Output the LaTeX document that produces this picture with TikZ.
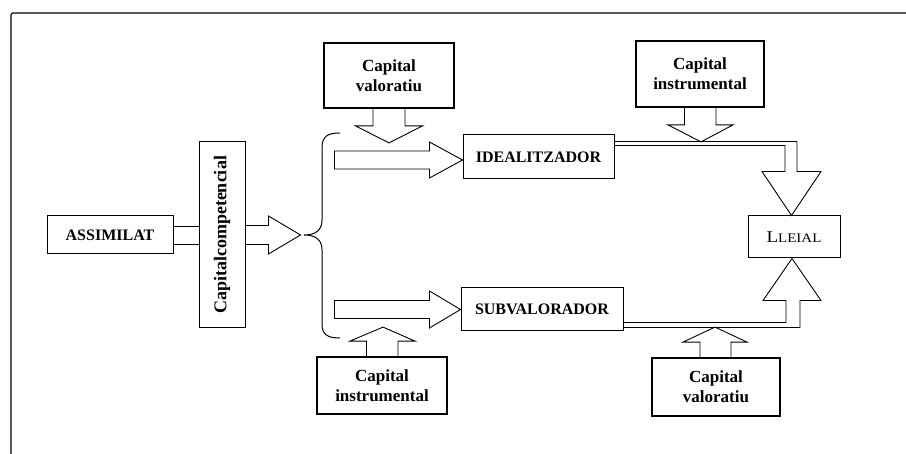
\documentclass[tikz,border=0pt]{standalone}
\usepackage{fontspec}
\setmainfont{Liberation Serif}
\usetikzlibrary{calc}
\begin{document}
\begin{tikzpicture}[x=1pt,y=1pt,
  plainbox/.style={draw, line width=1pt, inner sep=0pt, font=\bfseries\fontsize{16}{18}\selectfont},
  capbox/.style={draw, line width=1.8pt, inner sep=0pt, align=center, font=\bfseries\fontsize{17}{20}\selectfont},
  blockarrow/.style={draw, line width=0.9pt, line join=miter},
  framestroke/.style={line width=1.1pt}]
\useasboundingbox (0,0) rectangle (906,454);
% frame
\draw[framestroke, rounded corners=2pt] (11,0) -- (11,441) -- (906,441);
% nodes
\node[plainbox, minimum width=126pt, minimum height=38pt] (assim) at (110,219) {ASSIMILAT};
\node[plainbox, minimum width=46pt, minimum height=186pt, font=\bfseries\fontsize{18}{20}\selectfont] (comp) at (222,219) {\rotatebox{90}{Capitalcompetencial}};
\node[capbox, minimum width=130pt, minimum height=65pt] (capv1) at (389,378.5) {Capital\\valoratiu};
\node[capbox, minimum width=128pt, minimum height=66pt] (capi1) at (700,380) {Capital\\instrumental};
\node[plainbox, minimum width=151pt, minimum height=44pt] (ideal) at (538.5,297) {IDEALITZADOR};
\node[plainbox, minimum width=162pt, minimum height=43pt] (subv) at (542,144.5) {SUBVALORADOR};
\node[draw, line width=1pt, inner sep=0pt, minimum width=92pt, minimum height=42pt] (lleial) at (794,217)
  {\scalebox{1.15}[1]{\fontsize{16.5}{18}\selectfont L\fontsize{13}{18}\selectfont LEIAL}};
\node[capbox, minimum width=130pt, minimum height=57pt] (capi2) at (382,68.5) {Capital\\instrumental};
\node[capbox, minimum width=128pt, minimum height=58pt] (capv2) at (716,67) {Capital\\valoratiu};
% ASSIMILAT -> Capitalcompetencial (double shaft)
\coordinate (a1) at ($(assim.east)+(0,9)$);
\coordinate (a2) at ($(assim.east)+(0,-9)$);
\draw[blockarrow] (a1) -- (a1 -| comp.west);
\draw[blockarrow] (a2) -- (a2 -| comp.west);
% Capitalcompetencial -> brace
\draw[blockarrow] ($(comp.east)+(0,9.5)$) -- ++(23,0) -- ++(0,9.5) -- ($(comp.east)+(55,0)$) coordinate (ctip)
  -- ($(comp.east)+(23,-19)$) -- ++(0,9.5) -- ($(comp.east)+(0,-9.5)$);
% brace
\draw[line width=1pt] (340,321) .. controls (328,321) and (322,318) .. (322,306) -- (322,234)
  .. controls (322,224) and (316,219) .. (304,219)
  .. controls (316,219) and (322,214) .. (322,204) -- (322,130)
  .. controls (322,119) and (328,116) .. (340,116);
% arrow to IDEALITZADOR
\coordinate (it) at ($(ideal.west)+(0,-3)$);
\draw[blockarrow] ($(it)+(-128,9)$) -- ($(it)+(-33,9)$) -- ($(it)+(-33,18)$) -- (it)
  -- ($(it)+(-33,-18)$) -- ($(it)+(-33,-9)$) -- ($(it)+(-128,-9)$) -- cycle;
% arrow to SUBVALORADOR
\coordinate (st) at (subv.west);
\draw[blockarrow] ($(st)+(-126,9)$) -- ($(st)+(-31,9)$) -- ($(st)+(-31,18.5)$) -- (st)
  -- ($(st)+(-31,-18.5)$) -- ($(st)+(-31,-9)$) -- ($(st)+(-126,-9)$) -- cycle;
% Capital valoratiu (top) down arrow
\draw[blockarrow] ($(capv1.south)+(-16,0)$) -- ($(capv1.south)+(-16,-17)$) -- ($(capv1.south)+(-33.5,-17)$)
  -- ($(capv1.south)+(0,-34)$) -- ($(capv1.south)+(33.5,-17)$) -- ($(capv1.south)+(16,-17)$) -- ($(capv1.south)+(16,0)$);
% Capital instrumental (top) down arrow
\draw[blockarrow] ($(capi1.south)+(-15.5,0)$) -- ($(capi1.south)+(-15.5,-17)$) -- ($(capi1.south)+(-32,-17)$)
  -- ($(capi1.south)+(1,-34)$) -- ($(capi1.south)+(33,-17)$) -- ($(capi1.south)+(16,-17)$) -- ($(capi1.south)+(16,0)$);
% Capital instrumental (bottom) up arrow
\draw[blockarrow] ($(capi2.north)+(-15.5,0)$) -- ($(capi2.north)+(-15.5,15)$) -- ($(capi2.north)+(-32,15)$)
  -- ($(capi2.north)+(1,29)$) -- ($(capi2.north)+(33,15)$) -- ($(capi2.north)+(16,15)$) -- ($(capi2.north)+(16,0)$);
% Capital valoratiu (bottom) up arrow
\draw[blockarrow] ($(capv2.north)+(-16,0)$) -- ($(capv2.north)+(-16,15)$) -- ($(capv2.north)+(-33,15)$)
  -- ($(capv2.north)+(-1,30)$) -- ($(capv2.north)+(31,15)$) -- ($(capv2.north)+(15,15)$) -- ($(capv2.north)+(15,0)$);
% IDEALITZADOR -> LLEIAL
\coordinate (t1) at ($(lleial.north)+(-2.5,0)$);
\draw[blockarrow] ($(ideal.north east)+(0,-7)$) -- ($(t1)+(5.5,74)$) -- ($(t1)+(5.5,44)$) -- ($(t1)+(29.5,44)$)
  -- (t1) -- ($(t1)+(-29.5,44)$) -- ($(t1)+(-6.5,44)$) -- ($(t1)+(-6.5,70)$) -- ($(ideal.north east)+(0,-11)$);
% SUBVALORADOR -> LLEIAL
\coordinate (t2) at ($(lleial.south)+(-2,0)$);
\draw[blockarrow] ($(subv.south east)+(0,9)$) -- ($(t2)+(-6,-64)$) -- ($(t2)+(-6,-42)$) -- ($(t2)+(-29,-42)$)
  -- (t2) -- ($(t2)+(29,-42)$) -- ($(t2)+(8,-42)$) -- ($(t2)+(8,-69)$) -- ($(subv.south east)+(0,4)$);
\end{tikzpicture}
\end{document}
